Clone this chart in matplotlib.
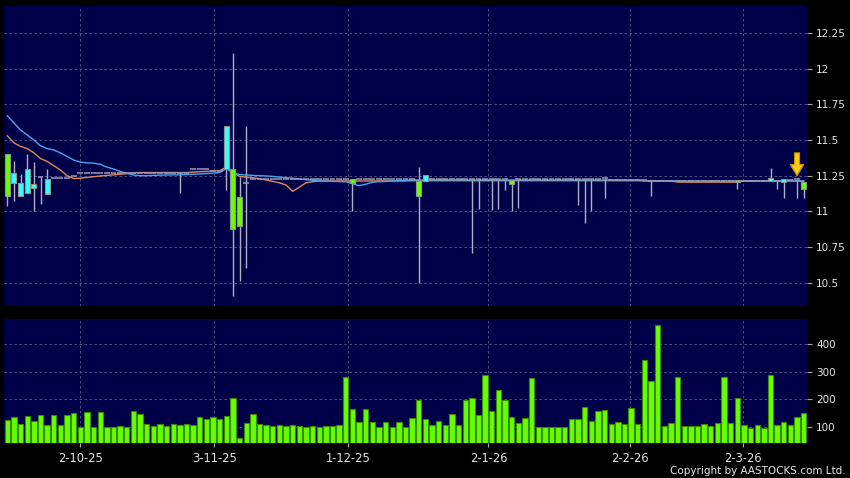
import matplotlib
matplotlib.use('Agg')
import matplotlib.pyplot as plt

# ---------------- data ----------------
opens = ([11.40, 11.20, 11.11, 11.13, 11.166, 11.24, 11.12, 11.236, 11.236, 11.236, 11.25]
         + [11.27] * 17 + [11.295] * 3 + [11.28] * 2
         + [11.30, 11.30, 11.10, 11.20] + [11.225] * 15 + [11.23] + [11.225] * 9
         + [11.215, 11.215] + [11.225] * 12 + [11.22] + [11.225] * 13 + [11.232]
         + [11.22] * 6 + [11.21] * 13 + [11.222] + [11.215] * 4
         + [11.211, 11.21, 11.208, 11.22, 11.225, 11.208])
closes = ([11.11, 11.27, 11.20, 11.30, 11.19, 11.24, 11.23, 11.236, 11.236, 11.236, 11.25]
          + [11.27] * 17 + [11.295] * 3 + [11.28] * 2
          + [11.60, 10.88, 10.90, 11.20] + [11.225] * 15 + [11.20] + [11.225] * 9
          + [11.11, 11.253] + [11.225] * 12 + [11.19] + [11.225] * 13 + [11.232]
          + [11.22] * 6 + [11.21] * 13 + [11.204] + [11.215] * 4
          + [11.232, 11.21, 11.225, 11.22, 11.225, 11.155])
highs = ([11.40, 11.35, 11.26, 11.40, 11.348, 11.24, 11.30, 11.236, 11.236, 11.236, 11.25]
         + [11.27] * 17 + [11.295] * 3 + [11.28] * 2
         + [11.60, 12.11, 11.24, 11.60] + [11.225] * 15 + [11.23] + [11.225] * 9
         + [11.313, 11.253] + [11.225] * 12 + [11.22] + [11.225] * 13 + [11.232]
         + [11.22] * 6 + [11.21] * 13 + [11.222] + [11.215] * 4
         + [11.302, 11.21, 11.225, 11.22, 11.225, 11.208])
lows = ([11.04, 11.07, 11.11, 11.13, 11.00, 11.05, 11.12, 11.236, 11.236, 11.236, 11.25]
        + [11.27] * 15 + [11.13, 11.27] + [11.295] * 3 + [11.28] * 2
        + [11.15, 10.41, 10.51, 10.60] + [11.225] * 15 + [11.00] + [11.225] * 9
        + [10.50, 11.215] + [11.225] * 6 + [10.71, 11.017, 11.225, 11.01, 11.017, 11.15]
        + [11.00] + [11.026] + [11.225] * 8 + [11.045, 10.92, 11.00, 11.225] + [11.097]
        + [11.22] * 6 + [11.11] + [11.21] * 12 + [11.155] + [11.215] * 4
        + [11.211, 11.155, 11.097, 11.22, 11.097, 11.097])

ma_blue = ([11.67, 11.62, 11.57, 11.535, 11.50, 11.46, 11.44, 11.43, 11.41, 11.385,
            11.36, 11.345, 11.34, 11.338, 11.33, 11.31, 11.297, 11.28, 11.267, 11.255,
            11.25, 11.25, 11.252, 11.254, 11.255, 11.256, 11.256, 11.258, 11.26, 11.262,
            11.265, 11.268, 11.272, 11.30, 11.27, 11.258, 11.255, 11.252, 11.25, 11.248,
            11.245, 11.24, 11.236, 11.232, 11.228, 11.222, 11.218, 11.213, 11.212, 11.21,
            11.209, 11.208, 11.195, 11.18, 11.19, 11.204, 11.208, 11.21, 11.212, 11.215,
            11.217] + [11.22] * 35 + [11.213] * 25)
ma_orange = ([11.53, 11.48, 11.455, 11.44, 11.41, 11.37, 11.35, 11.32, 11.29, 11.25,
              11.23, 11.232, 11.238, 11.243, 11.248, 11.252, 11.256, 11.26, 11.265, 11.27]
             + [11.272] * 8
             + [11.275, 11.278, 11.28, 11.283, 11.285, 11.31, 11.27, 11.245, 11.24, 11.235,
                11.23, 11.22, 11.21, 11.20, 11.185, 11.14, 11.17, 11.20, 11.208]
             + [11.213] * 14 + [11.215] * 40 + [11.205] * 10 + [11.213] * 10)

volume = [125, 135, 112, 140, 122, 142, 107, 142, 107, 142,
          152, 100, 153, 101, 153, 101, 101, 102, 101, 157,
          147, 111, 104, 112, 105, 112, 108, 112, 108, 135,
          130, 136, 130, 139, 204, 61, 113, 147, 111, 108,
          104, 108, 105, 107, 104, 99, 104, 99, 104, 102,
          106, 279, 164, 119, 164, 119, 100, 119, 100, 119,
          100, 131, 198, 128, 107, 122, 107, 146, 106, 198,
          205, 144, 289, 157, 234, 197, 137, 115, 131, 278,
          99, 100, 100, 100, 100, 128, 128, 171, 121, 158,
          162, 110, 117, 110, 167, 110, 343, 267, 470, 104,
          113, 279, 104, 104, 104, 112, 104, 113, 281, 113,
          203, 108, 95, 108, 98, 287, 106, 117, 106, 136, 151]

date_labels = ['2-10-25', '3-11-25', '1-12-25', '2-1-26', '2-2-26', '2-3-26']
date_pos = [11.0, 31.2, 51.4, 72.5, 93.8, 110.8]
price_ticks = [10.5, 10.75, 11, 11.25, 11.5, 11.75, 12, 12.25]
price_tick_labels = ['10.5', '10.75', '11', '11.25', '11.5', '11.75', '12', '12.25']
vol_ticks = [100, 200, 300, 400]
vol_tick_labels = ['100', '200', '300', '400']
arrow_day = 119
arrow_top, arrow_tip = 11.41, 11.25

# ---------------- style ----------------
BG = '#000000'
PANEL = '#000048'
GRID = '#5c5c8c'
UP = '#33ffff'
DOWN = '#66ff00'
WICK = '#b0b0c4'
TXT = '#e6e6e6'

fig = plt.figure(figsize=(8.5, 4.78), dpi=100, facecolor=BG)
W, H = 850, 478
ax1 = fig.add_axes([4 / W, 1 - 306 / H, 803 / W, 300 / H], facecolor=PANEL)
ax2 = fig.add_axes([4 / W, 1 - 443 / H, 803 / W, 124 / H], facecolor=PANEL)

n = len(closes)
x = list(range(n))
bw = 0.75

for i in x:
    o, c, h, l = opens[i], closes[i], highs[i], lows[i]
    if h > l:
        ax1.vlines(i, l, h, color=WICK, lw=1.0, zorder=3)
    if abs(c - o) < 1e-9:
        ax1.hlines(c, i - 0.45, i + 0.45, color='#9a9aae', lw=1.1, zorder=4)
    else:
        col = UP if c > o else DOWN
        ax1.bar(i, abs(c - o), bottom=min(o, c), width=bw, color=col,
                edgecolor='#8a9a8a', lw=0.8, zorder=4)

ax1.plot(x, ma_blue, color='#45a8f0', lw=1.0, zorder=3.5)
ax1.plot(x, ma_orange, color='#e08a5a', lw=1.0, zorder=3.4)

ax1.annotate('', xy=(arrow_day, arrow_tip), xytext=(arrow_day, arrow_top),
             arrowprops=dict(arrowstyle='simple,head_width=9.5,tail_width=3.6,head_length=8',
                             mutation_scale=1, facecolor='#ffcc10', edgecolor='#c89000',
                             lw=0.8, shrinkA=0, shrinkB=0), zorder=6)

ax2.bar(x, volume, width=0.8, color=DOWN, edgecolor='#3a8a00', lw=0.8, zorder=3)

ax1.set_xlim(-0.5, n - 0.5)
ax2.set_xlim(-0.5, n - 0.5)
ax1.set_ylim(10.337, 12.439)
ax2.set_ylim(42, 490)

for ax in (ax1, ax2):
    for s in ax.spines.values():
        s.set_visible(False)
    ax.yaxis.tick_right()
    ax.set_xticks(date_pos)
    ax.grid(True, color=GRID, ls=(0, (3, 3)), lw=0.6, zorder=0)
    ax.set_axisbelow(True)
    ax.tick_params(axis='y', colors='#aaaaaa', labelcolor=TXT, labelsize=7.5,
                   length=3.5, width=0.8, pad=3, direction='out')
    ax.tick_params(axis='x', colors='#aaaaaa', labelcolor=TXT, labelsize=8.3,
                   length=3, width=0.8, pad=3.5, direction='out')

ax1.set_yticks(price_ticks)
ax1.set_yticklabels(price_tick_labels)
ax1.tick_params(axis='x', length=0, labelbottom=False)
ax2.set_yticks(vol_ticks)
ax2.set_yticklabels(vol_tick_labels)
ax2.set_xticklabels(date_labels)

fig.text(846 / W, 1 - 471.5 / H, 'Copyright by AASTOCKS.com Ltd.', color=TXT,
         fontsize=7.5, ha='right', va='center')

fig.savefig('out.png', dpi=100, facecolor=BG)
